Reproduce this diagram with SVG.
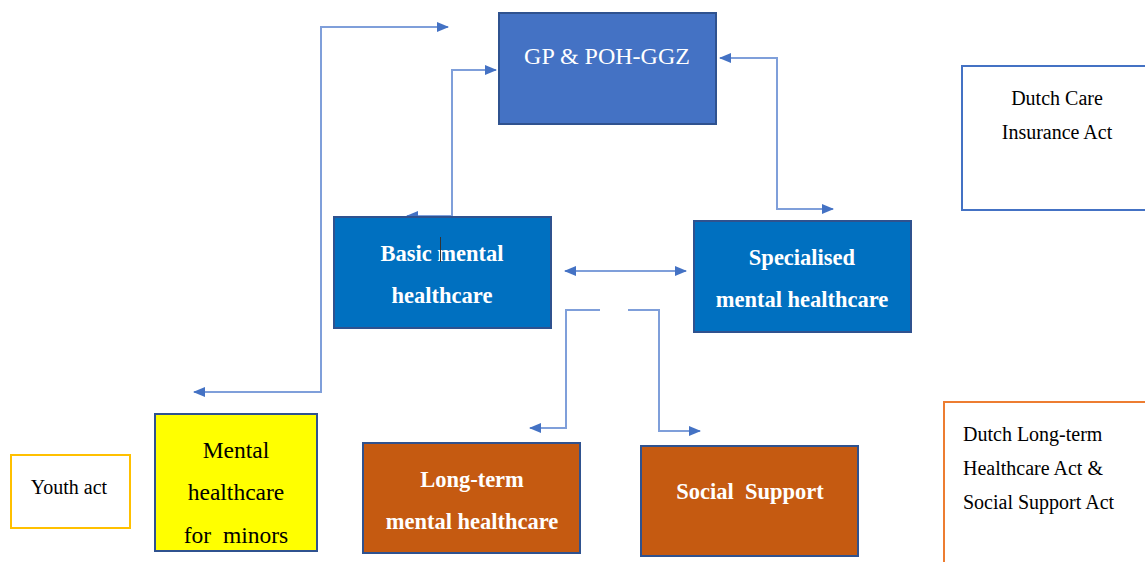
<svg xmlns="http://www.w3.org/2000/svg" width="1145" height="562" viewBox="0 0 1145 562">
<style>
.box{stroke:#2F528F;stroke-width:2}
text{font-family:"Liberation Serif","Tinos","DejaVu Serif",serif}
.t{text-anchor:middle}
.w{fill:#ffffff}
.b{font-weight:bold;font-size:22.5px}
.k{fill:#000000}
.n{font-size:20px}
.c{fill:none;stroke:#7F9FDA;stroke-width:2}
</style>
<defs>
<marker id="ah" viewBox="0 0 12 10" refX="11" refY="5" markerWidth="12" markerHeight="10" markerUnits="userSpaceOnUse" orient="auto-start-reverse">
<path d="M0,0 L12,5 L0,10 Z" fill="#4472C4"/>
</marker>
</defs>
<rect width="1145" height="562" fill="#ffffff"/>
<g id="connectors">
<path class="c" d="M448,27 H321 V392 H194" marker-start="url(#ah)" marker-end="url(#ah)"/>
<path class="c" d="M407,216 H452 V70 H496" marker-start="url(#ah)" marker-end="url(#ah)"/>
<path class="c" d="M720,58 H777 V209 H833" marker-start="url(#ah)" marker-end="url(#ah)"/>
<path class="c" d="M565,271 H686" marker-start="url(#ah)" marker-end="url(#ah)"/>
<path class="c" d="M600,310 H566 V428 H530" marker-end="url(#ah)"/>
<path class="c" d="M628,310 H659 V431 H700" marker-end="url(#ah)"/>
</g>
<g id="gp">
<rect class="box" x="499" y="13" width="217" height="111" fill="#4472C4"/>
<text class="t w" x="607" y="64" font-size="24">GP &amp; POH-GGZ</text>
</g>
<g id="basic">
<rect class="box" x="334" y="217" width="217" height="111" fill="#0070C0"/>
<text class="t w b" x="442" y="261">Basic mental</text>
<text class="t w b" x="442" y="303">healthcare</text>
<line x1="440.5" y1="237" x2="440.5" y2="262" stroke="#333333" stroke-width="1"/>
</g>
<g id="specialised">
<rect class="box" x="694" y="221" width="217" height="111" fill="#0070C0"/>
<text class="t w b" x="802" y="265">Specialised</text>
<text class="t w b" x="802" y="307">mental healthcare</text>
</g>
<g id="minors">
<rect class="box" x="155" y="414" width="162" height="137" fill="#FFFF00"/>
<text class="t k" x="236" y="458" font-size="23.5">Mental</text>
<text class="t k" x="236" y="500" font-size="23.5">healthcare</text>
<text class="t k" x="236" y="543" font-size="23.5" xml:space="preserve">for  minors</text>
</g>
<g id="youth">
<rect x="11" y="455" width="119" height="73" fill="#ffffff" stroke="#FFC000" stroke-width="2"/>
<text class="t k n" x="69" y="494">Youth act</text>
</g>
<g id="longterm">
<rect class="box" x="363" y="443" width="217" height="110" fill="#C55A11"/>
<text class="t w b" x="472" y="487">Long-term</text>
<text class="t w b" x="472" y="529">mental healthcare</text>
</g>
<g id="social">
<rect class="box" x="641" y="446" width="217" height="110" fill="#C55A11"/>
<text class="t w b" x="750" y="499" xml:space="preserve">Social  Support</text>
</g>
<g id="careact">
<rect x="962" y="66" width="190" height="144" fill="#ffffff" stroke="#4472C4" stroke-width="2"/>
<text class="t k n" x="1057" y="105">Dutch Care</text>
<text class="t k n" x="1057" y="139">Insurance Act</text>
</g>
<g id="longtermact">
<rect x="944" y="402" width="210" height="170" fill="#ffffff" stroke="#ED7D31" stroke-width="2"/>
<text class="k n" x="963" y="441">Dutch Long-term</text>
<text class="k n" x="963" y="475">Healthcare Act &amp;</text>
<text class="k n" x="963" y="509">Social Support Act</text>
</g>
</svg>
